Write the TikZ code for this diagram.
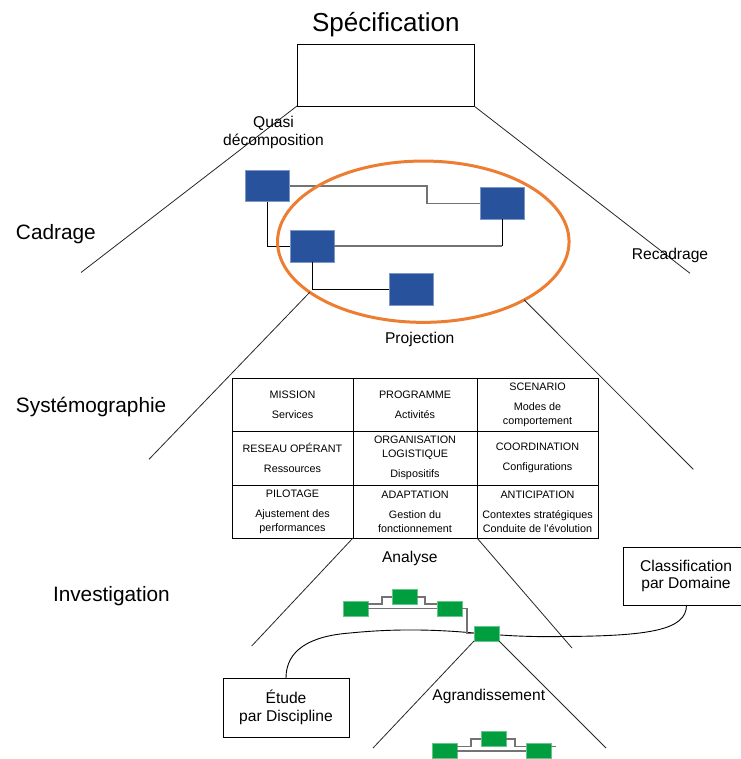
\documentclass[tikz,border=0pt]{standalone}
\usepackage{fontspec}
\setmainfont{Liberation Sans}
\usetikzlibrary{shapes.geometric,calc}
\definecolor{boxblue}{RGB}{40,82,156}
\definecolor{boxgreen}{RGB}{0,158,62}
\definecolor{ringorange}{RGB}{237,125,49}
\begin{document}
\begin{tikzpicture}[x=1pt,y=-1pt,
  every node/.style={inner sep=0pt, outer sep=0pt},
  frame/.style={draw=black, line width=0.9pt},
  ray/.style={draw=black!85, line width=0.8pt},
  wire/.style={draw=black, line width=0.9pt},
  greywire/.style={draw=black!55, line width=1.3pt},
  bluebox/.style={fill=boxblue, draw=boxblue!60!white, line width=0.5pt,
    minimum width=44pt, minimum height=31.5pt},
  greenbox/.style={fill=boxgreen, draw=boxgreen!60!white, line width=0.4pt,
    minimum width=25pt, minimum height=15pt},
  big/.style={font=\fontsize{20.8}{25}\selectfont},
  mid/.style={font=\fontsize{15.6}{18}\selectfont},
  cell/.style={draw=black, line width=0.9pt, align=center,
    font=\fontsize{10.8}{14}\selectfont},
]
\useasboundingbox (0,0) rectangle (740,759);

% ---- specification level
\node[anchor=base, font=\fontsize{26}{30}\selectfont] (title) at (385.8,31.7) {Spécification};
\node[frame, minimum width=177pt, minimum height=62pt] (spec) at (385.5,75) {};
\coordinate (cadL) at (81,272.5);
\coordinate (cadR) at (690,273.3);
\draw[ray] (spec.south west) -- (cadL);
\draw[ray] (spec.south east) -- (cadR);
\node[mid, align=center] (quasi) at (273.5,132) {Quasi\\décomposition};
\node[mid, anchor=base] (recad) at (670,259.3) {Recadrage};

% ---- side captions
\node[big, anchor=base west] (cadrage) at (16,239.3) {Cadrage};
\node[big, anchor=base west] (systemo) at (16,412) {Systémographie};
\node[big, anchor=base west] (investig) at (53,601.7) {Investigation};

% ---- structure of blocks
\node[bluebox] (b1) at (267.5,186) {};
\node[bluebox] (b2) at (502,203.5) {};
\node[bluebox] (b3) at (312,246) {};
\node[bluebox] (b4) at (411,289) {};
\coordinate (k1) at (427,0);
\draw[greywire] (b1.east) -| (k1 |- b2.west) -- (b2.west);
\draw[wire] (b1.south) |- (b3.west);
\draw[greywire] (b3.east) -- (b3.east -| b2.south);
\draw[wire] (b3.east -| b2.south) -- (b2.south);
\draw[wire] (b3.south) |- (b4.west);

\node[draw=ringorange, line width=3pt, ellipse,
  minimum width=291.5pt, minimum height=161.3pt] (ring) at (423.3,241.7) {};
\coordinate (sysL) at (149,459.3);
\coordinate (sysR) at (693.3,469.3);
\draw[ray] (ring.204) -- (sysL);
\draw[ray] (ring.330) -- (sysR);
\node[mid, anchor=base] (proj) at (419.7,343.3) {Projection};

% ---- systemography grid
\node[cell, minimum width=121pt, minimum height=53pt] (c11) at (292.5,404.5) {MISSION\\[6pt]Services};
\node[cell, minimum width=124pt, minimum height=53pt] (c12) at (415,404.5) {PROGRAMME\\[6pt]Activités};
\node[cell, minimum width=121pt, minimum height=53pt] (c13) at (537.5,404.5) {SCENARIO\\[6pt]Modes de\\comportement};
\node[cell, minimum width=121pt, minimum height=54pt] (c21) at (292.5,458) {RESEAU OPÉRANT\\[6pt]Ressources};
\node[cell, minimum width=124pt, minimum height=54pt] (c22) at (415,458) {ORGANISATION\\LOGISTIQUE\\[6pt]Dispositifs};
\node[cell, minimum width=121pt, minimum height=54pt] (c23) at (537.5,458) {COORDINATION\\[6pt]Configurations};
\node[cell, minimum width=121pt, minimum height=53pt] (c31) at (292.5,511.5) {PILOTAGE\\[6pt]Ajustement des\\performances};
\node[cell, minimum width=124pt, minimum height=53pt] (c32) at (415,511.5) {ADAPTATION\\[6pt]Gestion du\\fonctionnement};
\node[cell, minimum width=121pt, minimum height=53pt] (c33) at (537.5,511.5) {ANTICIPATION\\[6pt]Contextes stratégiques\\Conduite de l’évolution};
\coordinate (anaL) at (251.7,646);
\coordinate (anaR) at (572,648);
\draw[ray] (c31.south east) -- (anaL);
\draw[ray] (c32.south east) -- (anaR);
\node[mid, anchor=base] (analyse) at (409.8,562) {Analyse};

% ---- investigation boxes and the link between them
\node[frame, minimum width=126pt, minimum height=59pt, align=center,
  font=\fontsize{15.6}{18.4}\selectfont] (etude) at (286,707.5) {Étude\\par Discipline};
\node[frame, minimum width=118pt, minimum height=58pt, align=center,
  font=\fontsize{15.6}{16.7}\selectfont] (class) at (682,576)
  {\hspace*{8pt}Classification\\\hspace*{8pt}par Domaine};
\draw[wire] (etude.north) .. controls (286,650) and (310,636) .. (350,633)
  .. controls (380,630) and (420,628) .. (474,633)
  .. controls (510,636) and (530,637) .. (563,636.5)
  .. controls (650,636) and (686.5,630) .. ($(class.south)+(4.5,0)$);

% ---- green chain
\node[greenbox] (g1) at (355.5,608.5) {};
\node[greenbox] (g2) at (404.5,597) {};
\node[greenbox] (g3) at (449.5,608.5) {};
\node[greenbox] (g4) at (486.5,633.5) {};
\coordinate (k2) at (382,0);
\coordinate (k3) at (425,0);
\coordinate (k4) at (467,0);
\draw[greywire] ($(g1.east)+(0,-4.5)$) -| (k2 |- g2.west) -- (g2.west);
\draw[greywire] (g2.east) -| ($(k3 |- g3.west)+(0,-4.5)$) -- ($(g3.west)+(0,-4.5)$);
\draw[greywire] (g1.east) -- (g3.west);
\draw[greywire] (g3.east) -| (k4 |- g4.west) -- (g4.west);

\coordinate (zoomL) at (373,748);
\coordinate (zoomR) at (606,748);
\draw[ray] (g4.south west) -- (zoomL);
\draw[ray] (g4.south east) -- (zoomR);
\node[mid, anchor=base] (agrand) at (488.8,700) {Agrandissement};

% ---- enlarged chain
\node[greenbox] (h1) at (444.5,751) {};
\node[greenbox] (h2) at (493.5,739) {};
\node[greenbox] (h3) at (538.5,751) {};
\coordinate (k5) at (471,0);
\coordinate (k6) at (515,0);
\coordinate (tail) at (556,746.5);
\draw[greywire] ($(h1.east)+(0,-4.5)$) -| (k5 |- h2.west) -- (h2.west);
\draw[greywire] (h2.east) -| ($(k6 |- h3.west)+(0,-4.5)$) -- ($(h3.west)+(0,-4.5)$);
\draw[greywire] (h1.east) -- (h3.west);
\draw[greywire] ($(h3.east)+(0,-4.5)$) -- (tail);
\end{tikzpicture}
\end{document}
